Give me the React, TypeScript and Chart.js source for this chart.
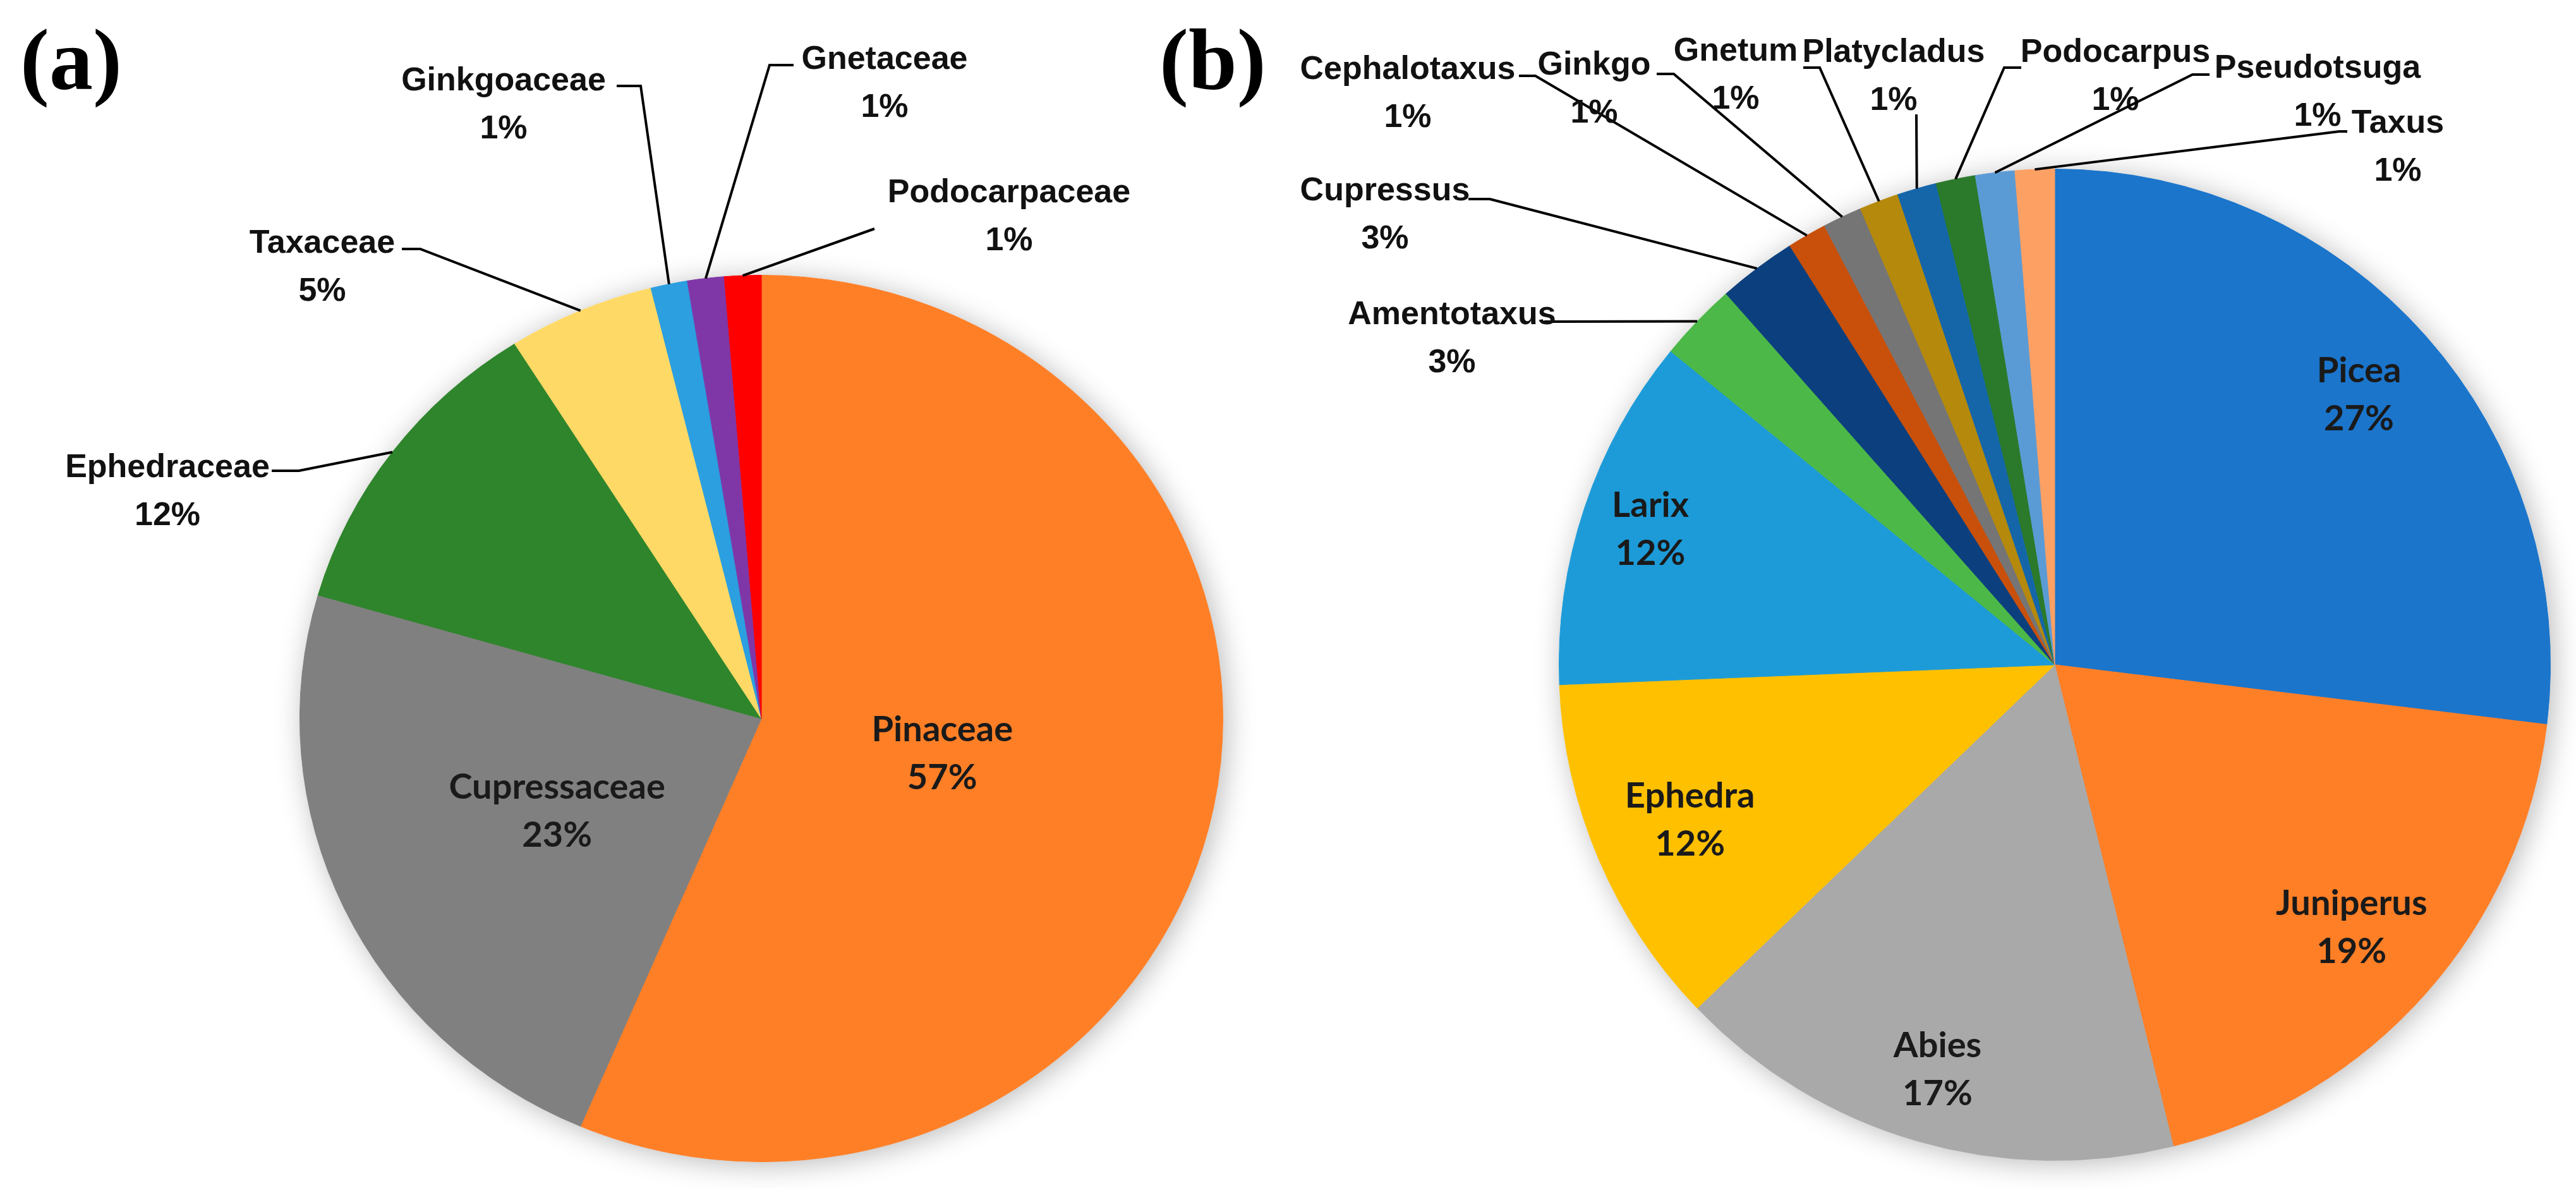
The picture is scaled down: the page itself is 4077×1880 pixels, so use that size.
import React, { useEffect, useRef } from "react";
import { Chart, registerables } from "chart.js";

Chart.register(...registerables);

// ---------- data: panel (a) families ----------
const familyNames = ["Pinaceae", "Cupressaceae", "Ephedraceae", "Taxaceae", "Ginkgoaceae", "Gnetaceae", "Podocarpaceae"];
const familyCounts = [44, 18, 9, 4, 1, 1, 1];
const familyPercentText = ["57%", "23%", "12%", "5%", "1%", "1%", "1%"];
const familyColors = ["#FF7F27", "#808080", "#2F852C", "#FFD966", "#2B9FE0", "#7F37A7", "#FF0000"];

// ---------- data: panel (b) genera ----------
const genusNames = ["Picea", "Juniperus", "Abies", "Ephedra", "Larix", "Amentotaxus", "Cupressus", "Cephalotaxus", "Ginkgo", "Gnetum", "Platycladus", "Podocarpus", "Pseudotsuga", "Taxus"];
const genusCounts = [21, 15, 13, 9, 9, 2, 2, 1, 1, 1, 1, 1, 1, 1];
const genusPercentText = ["27%", "19%", "17%", "12%", "12%", "3%", "3%", "1%", "1%", "1%", "1%", "1%", "1%", "1%"];
const genusColors = ["#1B75CB", "#FF7F27", "#A9A9A9", "#FFC000", "#1D9BD8", "#4CB848", "#0C3F7D", "#C8500B", "#757575", "#B5890B", "#1466A9", "#2B7A2B", "#5B9BD5", "#FCA064"];

// ---------- label layout (page pixel positions, not data) ----------
type LabelPos = { inside?: number; x?: number; y?: number; lead?: number[][] };

const familyLabelPos: LabelPos[] = [
  { inside: 0.40 },
  { inside: 0.49 },
  { x: 265, y: 755, lead: [[430, 745], [473, 745]] },
  { x: 510, y: 400, lead: [[636, 394], [665, 394]] },
  { x: 797, y: 143, lead: [[976, 136], [1014, 136]] },
  { x: 1400, y: 109, lead: [[1256, 103], [1218, 103]] },
  { x: 1597, y: 320, lead: [[1384, 362]] },
];

const genusLabelPos: LabelPos[] = [
  { inside: 0.82 },
  { inside: 0.80 },
  { inside: 0.85 },
  { inside: 0.80 },
  { inside: 0.86 },
  { x: 2298, y: 513, lead: [[2444, 509]] },
  { x: 2192, y: 317, lead: [[2324, 315], [2358, 315]] },
  { x: 2228, y: 125, lead: [[2404, 120], [2430, 120]] },
  { x: 2523, y: 118, lead: [[2622, 117], [2649, 117]] },
  { x: 2747, y: 96, lead: [[2854, 107], [2880, 107]] },
  { x: 2997, y: 98, lead: [[3033, 181]] },
  { x: 3348, y: 98, lead: [[3199, 107], [3172, 107]] },
  { x: 3668, y: 123, lead: [[3497, 118], [3470, 118]] },
  { x: 3795, y: 210, lead: [[3715, 208], [3702, 208]] },
];

const OUT_FONT = 'bold 52px "Liberation Sans", Arial, sans-serif';
const IN_FONT = 'bold 56px Lato, "Liberation Sans", sans-serif';
const TITLE_FONT = 'bold 138px "Liberation Serif", "Times New Roman", serif';
const LINE_H = 76;

type DecorOpts = {
  offsetX: number;
  sx: number;
  names: string[];
  pct: string[];
  pos: LabelPos[];
  title: string;
  titleX: number;
  titleY: number;
};

function decorPlugin(o: DecorOpts) {
  return {
    id: "pieDecor",
    beforeDatasetsDraw(chart: any) {
      const ctx = chart.ctx as CanvasRenderingContext2D;
      const el = chart.getDatasetMeta(0).data[0] as any;
      const cx = el.x, cy = el.y, R = el.outerRadius;
      ctx.save();
      ctx.translate(cx, 0);
      ctx.scale(o.sx, 1);
      ctx.translate(-cx, 0);
      ctx.save();
      ctx.shadowColor = "rgba(0,0,0,0.28)";
      ctx.shadowBlur = 45;
      ctx.shadowOffsetX = 6;
      ctx.shadowOffsetY = 5;
      ctx.beginPath();
      ctx.arc(cx, cy, R, 0, Math.PI * 2);
      ctx.fillStyle = "#ffffff";
      ctx.fill();
      ctx.restore();
    },
    afterDatasetsDraw(chart: any) {
      const ctx = chart.ctx as CanvasRenderingContext2D;
      ctx.restore();
      const meta = chart.getDatasetMeta(0);
      ctx.save();
      ctx.textAlign = "center";
      meta.data.forEach((el: any, i: number) => {
        const p = o.pos[i];
        const mid = (el.startAngle + el.endAngle) / 2;
        const cx = el.x, cy = el.y, R = el.outerRadius;
        if (p.inside !== undefined) {
          const r = p.inside * R;
          const px = cx + Math.cos(mid) * r * o.sx;
          const py = cy + Math.sin(mid) * r;
          ctx.font = IN_FONT;
          ctx.fillStyle = "#1a1a1a";
          ctx.textBaseline = "middle";
          ctx.fillText(o.names[i], px, py - LINE_H / 2);
          ctx.fillText(o.pct[i], px, py + LINE_H / 2);
        } else {
          const ex = cx + Math.cos(mid) * R * o.sx;
          const ey = cy + Math.sin(mid) * R;
          ctx.strokeStyle = "#000000";
          ctx.lineWidth = 4;
          ctx.lineJoin = "miter";
          ctx.beginPath();
          (p.lead || []).forEach((pt, k) => {
            const X = pt[0] - o.offsetX, Y = pt[1];
            if (k === 0) ctx.moveTo(X, Y);
            else ctx.lineTo(X, Y);
          });
          ctx.lineTo(ex, ey);
          ctx.stroke();
          ctx.font = OUT_FONT;
          ctx.fillStyle = "#111111";
          ctx.textBaseline = "alphabetic";
          const tx = (p.x as number) - o.offsetX;
          ctx.fillText(o.names[i], tx, p.y as number);
          ctx.fillText(o.pct[i], tx, (p.y as number) + LINE_H);
        }
      });
      ctx.font = TITLE_FONT;
      ctx.fillStyle = "#000000";
      ctx.textAlign = "left";
      ctx.textBaseline = "alphabetic";
      ctx.fillText(o.title, o.titleX - o.offsetX, o.titleY);
      ctx.restore();
    },
  };
}

function makePie(
  canvas: HTMLCanvasElement,
  names: string[],
  values: number[],
  colors: string[],
  padding: { left: number; right: number; top: number; bottom: number },
  decor: DecorOpts
) {
  return new Chart(canvas, {
    type: "pie",
    data: {
      labels: names,
      datasets: [
        {
          data: values,
          backgroundColor: colors,
          borderColor: colors,
          borderWidth: 1,
          clip: false as any,
        } as any,
      ],
    },
    options: {
      responsive: false,
      maintainAspectRatio: false,
      animation: false,
      events: [],
      layout: { padding },
      plugins: { legend: { display: false }, tooltip: { enabled: false } },
    },
    plugins: [decorPlugin(decor) as any],
  });
}

export default function App() {
  const refA = useRef<HTMLCanvasElement>(null);
  const refB = useRef<HTMLCanvasElement>(null);

  useEffect(() => {
    let charts: Chart[] = [];
    let cancelled = false;
    const fontsReady = Promise.all([
      document.fonts.load(OUT_FONT),
      document.fonts.load(IN_FONT),
      document.fonts.load(TITLE_FONT),
    ]).catch(() => null);
    fontsReady.then(() => {
      if (cancelled || !refA.current || !refB.current) return;
      const a = makePie(
        refA.current,
        familyNames,
        familyCounts,
        familyColors,
        { left: 503, right: 93, top: 435, bottom: 41 },
        {
          offsetX: 0,
          sx: 731 / 702,
          names: familyNames,
          pct: familyPercentText,
          pos: familyLabelPos,
          title: "(a)",
          titleX: 32,
          titleY: 141,
        }
      );
      const b = makePie(
        refB.current,
        genusNames,
        genusCounts,
        genusColors,
        { left: 667, right: 40, top: 267, bottom: 43 },
        {
          offsetX: 1800,
          sx: 1,
          names: genusNames,
          pct: genusPercentText,
          pos: genusLabelPos,
          title: "(b)",
          titleX: 1835,
          titleY: 141,
        }
      );
      charts = [a, b];
    });
    return () => {
      cancelled = true;
      charts.forEach((c) => c.destroy());
      charts = [];
    };
  }, []);

  return (
    <div
      style={{
        position: "absolute",
        left: 0,
        top: 0,
        width: 4077,
        height: 1880,
        background: "#ffffff",
        overflow: "hidden",
      }}
    >
      <canvas
        ref={refA}
        width={2000}
        height={1880}
        style={{ position: "absolute", left: 0, top: 0, width: 2000, height: 1880 }}
      />
      <canvas
        ref={refB}
        width={2277}
        height={1880}
        style={{ position: "absolute", left: 1800, top: 0, width: 2277, height: 1880 }}
      />
    </div>
  );
}
